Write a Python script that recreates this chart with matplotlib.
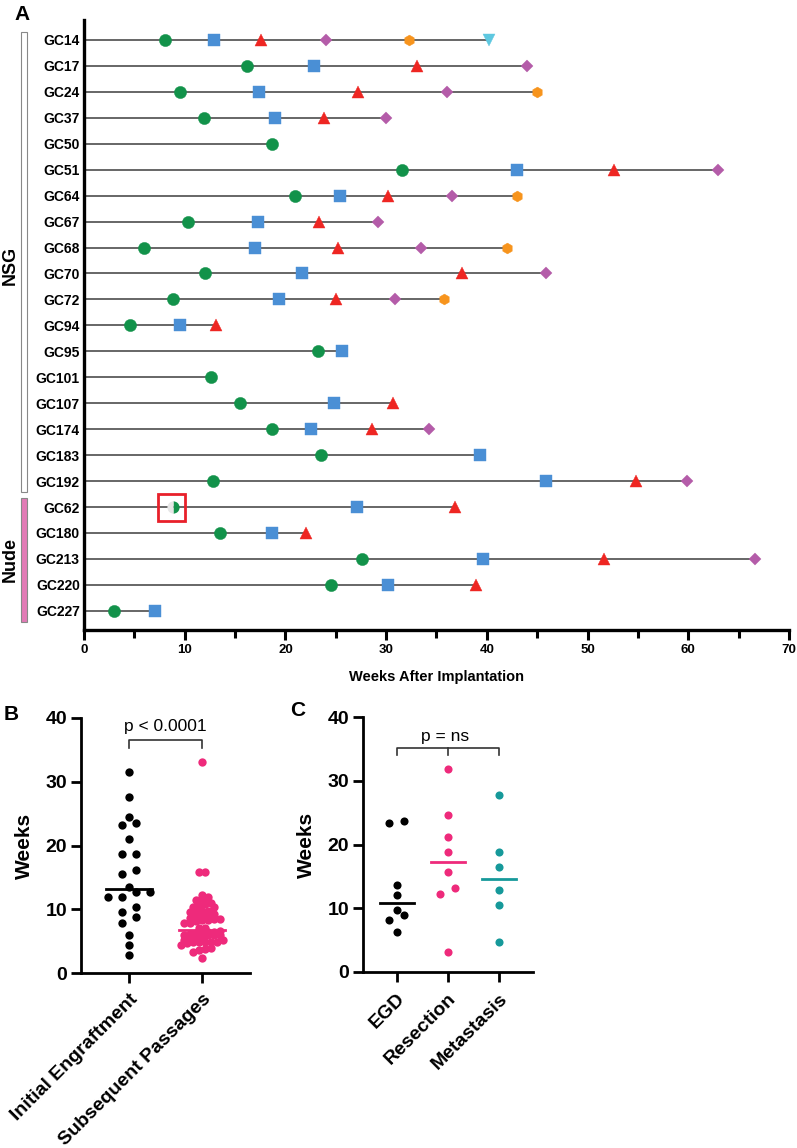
import numpy as np
import matplotlib.pyplot as plt
from matplotlib.patches import Rectangle
from matplotlib.transforms import blended_transform_factory
from matplotlib.ticker import MultipleLocator

plt.rcParams['font.family'] = ['Liberation Sans', 'DejaVu Sans']

nan = np.nan

# ---- panel A: passage timeline per model ----
models = ['GC14', 'GC17', 'GC24', 'GC37', 'GC50', 'GC51', 'GC64', 'GC67', 'GC68', 'GC70',
          'GC72', 'GC94', 'GC95', 'GC101', 'GC107', 'GC174', 'GC183', 'GC192',
          'GC62', 'GC180', 'GC213', 'GC220', 'GC227']
partial_model = 'GC62'

p0 = [8.0, 16.2, 9.5, 11.9, 18.7, 31.6, 21.0, 10.3, 6.0, 12.0, 8.8, 4.6, 23.2, 12.6,
      15.5, 18.7, 23.5, 12.8, 8.8, 13.5, 27.6, 24.5, 3.0]
p1 = [12.9, 22.8, 17.4, 19.0, nan, 43.0, 25.4, 17.3, 17.0, 21.6, 19.4, 9.5, 25.6, nan,
      24.8, 22.5, 39.3, 45.9, 27.1, 18.7, 39.6, 30.2, 7.0]
p2 = [17.6, 33.1, 27.2, 23.8, nan, 52.6, 30.2, 23.3, 25.2, 37.5, 25.0, 13.1, nan, nan,
      30.7, 28.6, nan, 54.8, 36.8, 22.0, 51.6, 38.9, nan]
p3 = [24.0, 44.0, 36.0, 30.0, nan, 63.0, 36.5, 29.2, 33.5, 45.9, 30.9, nan, nan, nan,
      nan, 34.3, nan, 59.9, nan, nan, 66.6, nan, nan]
p4 = [32.3, nan, 45.0, nan, nan, nan, 43.0, nan, 42.0, nan, 35.7, nan, nan, nan,
      nan, nan, nan, nan, nan, nan, nan, nan, nan]
p5 = [40.2, nan, nan, nan, nan, nan, nan, nan, nan, nan, nan, nan, nan, nan,
      nan, nan, nan, nan, nan, nan, nan, nan, nan]

# ---- panel B ----
b_groups = ['Initial Engraftment', 'Subsequent Passages']
initial = [31.6, 27.6, 24.5, 23.6, 23.2, 21.0, 18.6, 18.6, 16.2, 15.5, 13.5, 12.7, 12.7,
           11.9, 11.9, 10.3, 9.5, 8.8, 7.9, 5.9, 4.4, 2.8]
subsequent = [4.9, 4.7, 6.4, 8.3, 7.9, 6.6, 10.3, 10.9, 7.9, 9.8, 8.8, 9.0, 7.1, 4.8, 6.2,
              11.4, 9.6, 10.4, 4.4, 4.8, 6.3, 6.5, 7.0, 6.0, 5.9, 11.0, 8.2, 8.3, 8.5,
              9.6, 15.9, 8.4, 10.6, 5.6, 5.9, 4.8, 4.9, 3.6, 2.4, 9.3, 5.9, 3.8, 6.1,
              5.7, 15.8, 33.1, 8.9, 5.1, 9.7, 5.2, 3.3, 12.0, 12.3, 11.8, 5.7, 8.7, 4.0]
b_medians = [13.2, 6.8]

# ---- panel C ----
c_groups = ['EGD', 'Resection', 'Metastasis']
egd = [23.7, 23.4, 13.7, 12.1, 9.7, 8.9, 8.1, 6.2]
resection = [31.8, 24.7, 21.2, 18.8, 15.7, 13.1, 12.2, 3.1]
metastasis = [27.8, 18.8, 16.4, 12.8, 10.5, 4.7]
c_medians = [10.9, 17.3, 14.6]

W, H = 797, 1148
fig = plt.figure(figsize=(W / 100, H / 100), dpi=100)

green, blue, red = '#12924a', '#4a8fd5', '#ee2622'
purple, orange, cyan = '#b45ca9', '#f7941d', '#5ec8e0'
pink, teal = '#ee2a7b', '#16999a'

styles = [('o', green, 8.8), ('s', blue, 8.4), ('^', red, 8.2),
          ('D', purple, 5.8), ('h', orange, 7.8), ('v', cyan, 8.2)]

axA = fig.add_axes([84 / W, 1 - 630 / H, 705 / W, 610 / H])
passages = [p0, p1, p2, p3, p4, p5]
for i, name in enumerate(models):
    times = [p[i] for p in passages]
    last = np.nanmax(times)
    axA.plot([0, last], [i, i], color='#4d4d4d', lw=1.2, zorder=1, solid_capstyle='butt')
    for k, t in enumerate(times):
        if np.isnan(t):
            continue
        m, c, s = styles[k]
        if k == 0 and name == partial_model:
            axA.plot(t, i, marker='o', ms=s, color=c, mec='none', fillstyle='right',
                     markerfacecoloralt='#e6e6e6', zorder=3)
            continue
        axA.plot(t, i, marker=m, ms=s, color=c, mec=c, mew=0.3, zorder=3, clip_on=False)

# red box around the partial first passage of GC62
j = models.index(partial_model)
axA.add_patch(Rectangle((p0[j] - 1.5, j - 0.52), 2.7, 1.07, fill=False,
                        ec='#e8202a', lw=2.0, zorder=4))

axA.set_xlim(0, 70)
axA.set_ylim(22.74, -0.77)
axA.set_yticks(range(len(models)))
axA.set_yticklabels(models, fontsize=10, fontweight='bold')
axA.tick_params(axis='y', length=0, pad=3)
axA.xaxis.set_major_locator(MultipleLocator(10))
axA.xaxis.set_minor_locator(MultipleLocator(5))
axA.tick_params(axis='x', which='major', length=7, width=2.2, pad=3, labelsize=9.5)
axA.tick_params(axis='x', which='minor', length=6, width=2.2)
for lab in axA.get_xticklabels():
    lab.set_fontweight('bold')
for sp in ['top', 'right']:
    axA.spines[sp].set_visible(False)
for sp in ['left', 'bottom']:
    axA.spines[sp].set_linewidth(2.4)
axA.set_xlabel('Weeks After Implantation', fontsize=10.5, fontweight='bold', labelpad=10)

# mouse strain bars
tr = blended_transform_factory(fig.transFigure, axA.transData)
fig.patches.append(Rectangle((21 / W, -0.31), 6 / W, 17.72, transform=tr, fc='white',
                             ec='#888888', lw=0.8, figure=fig))
fig.patches.append(Rectangle((21 / W, 17.64), 6 / W, 4.81, transform=tr, fc='#e27bb6',
                             ec='#888888', lw=0.8, figure=fig))
fig.text(10 / W, 1 - 265 / H, 'NSG', rotation=90, ha='center', va='center',
         fontsize=13, fontweight='bold')
fig.text(10 / W, 1 - 560 / H, 'Nude', rotation=90, ha='center', va='center',
         fontsize=13, fontweight='bold')


def binned_offsets(vals, h, spacing):
    # group values lying within h of each other, spread each group symmetrically
    vals = np.asarray(vals, float)
    order = np.argsort(vals)
    out = np.zeros(len(vals))
    group = []
    for i in list(order) + [None]:
        if i is not None and group and vals[i] - vals[group[0]] < h:
            group.append(i)
            continue
        n = len(group)
        for r, g in enumerate(group):
            out[g] = (r - (n - 1) / 2) * spacing
        group = [i] if i is not None else []
    return out


def style_dot_axes(ax, labels):
    ax.set_ylim(0, 40)
    ax.set_yticks([0, 10, 20, 30, 40])
    ax.set_xticks(range(len(labels)))
    ax.set_xticklabels(labels, rotation=45, ha='right', rotation_mode='anchor',
                       fontsize=14, fontweight='bold')
    for lab in ax.get_yticklabels():
        lab.set_fontweight('bold')
        lab.set_fontsize(14)
    ax.tick_params(axis='both', length=7, width=2.0, pad=3)
    ax.tick_params(axis='x', pad=6)
    for sp in ['top', 'right']:
        ax.spines[sp].set_visible(False)
    for sp in ['left', 'bottom']:
        ax.spines[sp].set_linewidth(2.0)
    ax.set_ylabel('Weeks', fontsize=15, fontweight='bold', labelpad=8)


# ---- B ----
axB = fig.add_axes([81 / W, 1 - 973 / H, 169 / W, 255 / H])
axB.set_xlim(-0.66, 1.66)
xpx_b = 73.0
for k, (vals, col, h, sp) in enumerate([(initial, 'black', 1.2, 14.0),
                                        (subsequent, pink, 0.75, 6.0)]):
    off = binned_offsets(vals, h, sp)
    axB.scatter(k + off / xpx_b, vals, s=36, color=col, linewidths=0, zorder=3,
                clip_on=False)
    axB.plot([k - 0.32, k + 0.32], [b_medians[k]] * 2, color=col, lw=2, zorder=4)
style_dot_axes(axB, b_groups)
axB.plot([0, 0, 1, 1], [35.3, 36.5, 36.5, 35.3], color='#333333', lw=1.2, clip_on=False)
axB.text(0.5, 38.6, 'p < 0.0001', ha='center', va='center', fontsize=12.5)

# ---- C ----
axC = fig.add_axes([363 / W, 1 - 972 / H, 170 / W, 255 / H])
axC.set_xlim(-0.66, 2.67)
xpx_c = 51.0
for k, (vals, col) in enumerate([(egd, 'black'), (resection, pink), (metastasis, teal)]):
    off = binned_offsets(vals, 1.2, 15.4)
    axC.scatter(k + off / xpx_c, vals, s=34, color=col, linewidths=0, zorder=3,
                clip_on=False)
    axC.plot([k - 0.33, k + 0.33], [c_medians[k]] * 2, color=col, lw=2, zorder=4)
style_dot_axes(axC, c_groups)
axC.plot([0, 0, 2, 2], [34.0, 35.1, 35.1, 34.0], color='#333333', lw=1.2, clip_on=False)
axC.plot([1, 1], [35.1, 34.0], color='#333333', lw=1.2, clip_on=False)
axC.text(0.95, 37.0, 'p = ns', ha='center', va='center', fontsize=12.5)

# panel letters
fig.text(14 / W, 1 - 15 / H, 'A', ha='left', va='center', fontsize=15, fontweight='bold')
fig.text(4 / W, 1 - 714 / H, 'B', ha='left', va='center', fontsize=15, fontweight='bold')
fig.text(290 / W, 1 - 710 / H, 'C', ha='left', va='center', fontsize=15, fontweight='bold')

fig.savefig('out.png', dpi=100)
